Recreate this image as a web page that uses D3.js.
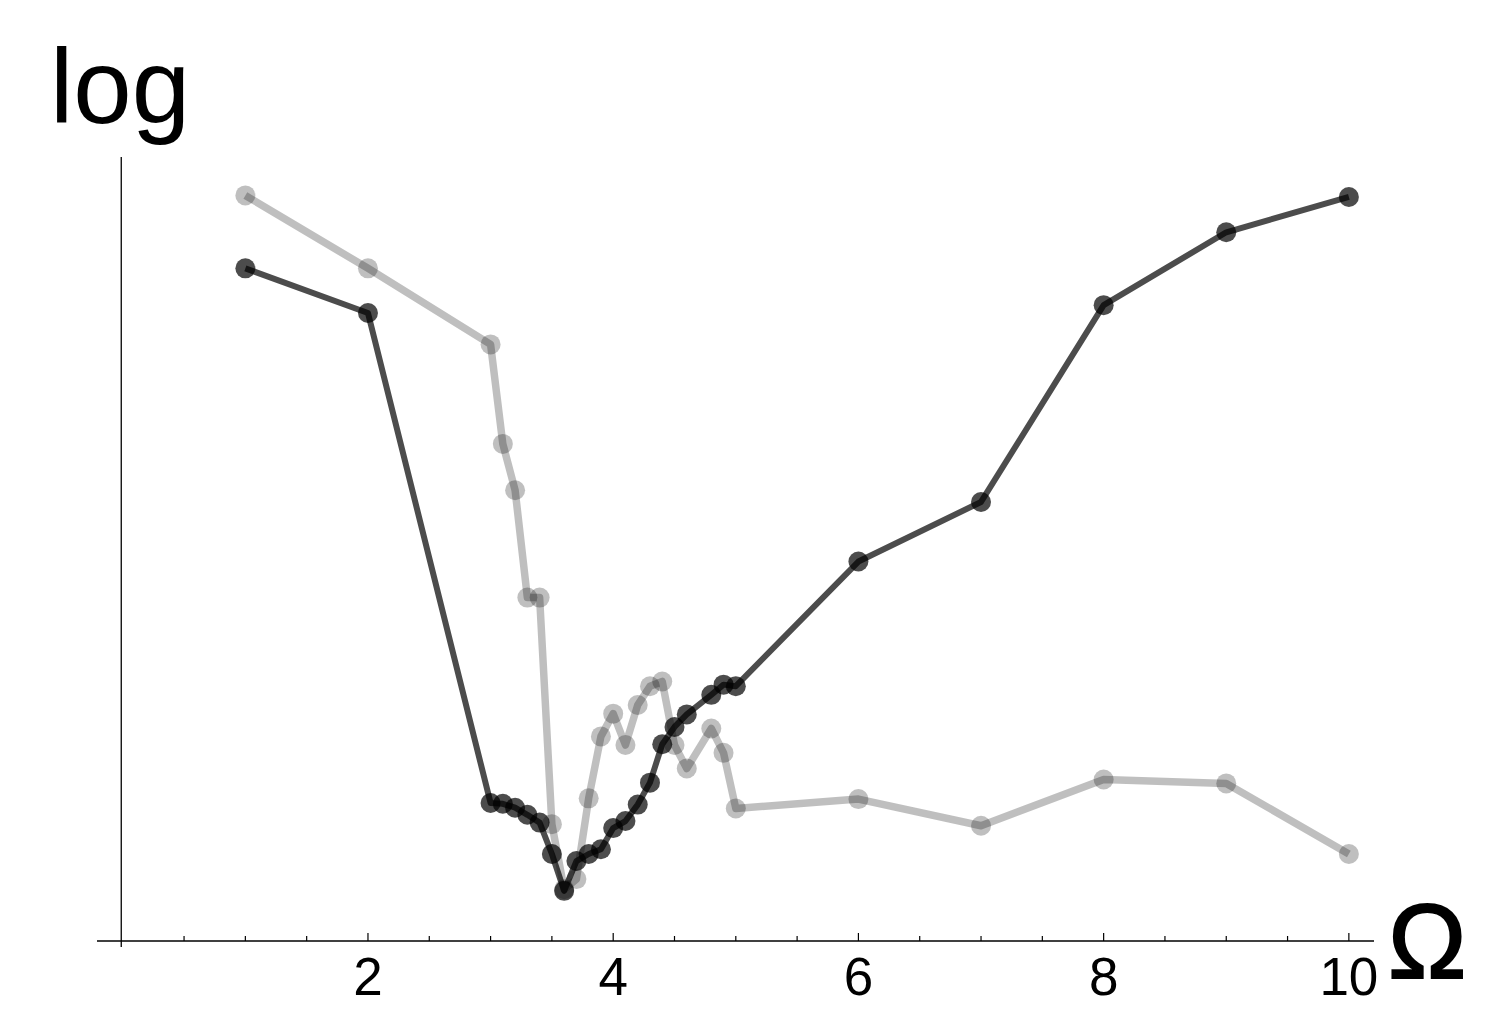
<!DOCTYPE html>
<html>
<head>
<meta charset="utf-8">
<script src="https://cdn.jsdelivr.net/npm/d3@7"></script>
<style>
  body { margin: 0; background: #fff; }
  text { font-family: "Liberation Sans", Arial, sans-serif; }
</style>
</head>
<body>
<div id="chart"></div>
<script>
// Omega sampling (no 4.7 in the original run)
const omega = [1, 2, 3, 3.1, 3.2, 3.3, 3.4, 3.5, 3.6, 3.7, 3.8, 3.9, 4.0, 4.1, 4.2, 4.3, 4.4, 4.5, 4.6, 4.8, 4.9, 5, 6, 7, 8, 9, 10];

// log values (arbitrary units, axis has no y ticks)
const darkValues = [85.8, 80.1, 17.6, 17.5, 17.0, 16.1, 15.1, 11.1, 6.4, 10.2, 11.1, 11.7, 14.4, 15.3, 17.4, 20.2, 25.1, 27.3, 28.9, 31.4, 32.7, 32.5, 48.4, 56.0, 81.1, 90.4, 94.9];
const lightValues = [95.1, 85.8, 76.1, 63.4, 57.5, 43.8, 43.8, 14.9, 6.6, 7.9, 18.2, 26.1, 29.0, 25.0, 30.1, 32.5, 33.1, 25.0, 22.0, 27.1, 24.0, 16.9, 18.1, 14.7, 20.6, 20.1, 11.1];

const majorTicks = [2, 4, 6, 8, 10];
const minorTicks = [0.5, 1, 1.5, 2.5, 3, 3.5, 4.5, 5, 5.5, 6.5, 7, 7.5, 8.5, 9, 9.5];

const width = 1500;
const height = 1031;

const svg = d3.select('#chart').append('svg')
    .attr('width', width)
    .attr('height', height);

const x = d3.scaleLinear()
    .domain([-0.21, 10.205])
    .range([97, 1374]);

const y = d3.scaleLinear()
    .domain([0, 100])
    .range([941, 157]);

// x axis: line plus inward ticks
svg.append('line')
    .attr('x1', x.range()[0]).attr('x2', x.range()[1])
    .attr('y1', y(0)).attr('y2', y(0))
    .attr('stroke', '#000').attr('stroke-width', 1.3);

svg.selectAll('.minor')
    .data(minorTicks)
    .enter().append('line')
    .attr('class', 'minor')
    .attr('x1', d => x(d)).attr('x2', d => x(d))
    .attr('y1', y(0)).attr('y2', y(0) - 5)
    .attr('stroke', '#000').attr('stroke-width', 1.2);

svg.selectAll('.major')
    .data(majorTicks)
    .enter().append('line')
    .attr('class', 'major')
    .attr('x1', d => x(d)).attr('x2', d => x(d))
    .attr('y1', y(0)).attr('y2', y(0) - 8)
    .attr('stroke', '#000').attr('stroke-width', 1.2);

svg.selectAll('.tick-label')
    .data(majorTicks)
    .enter().append('text')
    .attr('class', 'tick-label')
    .attr('x', d => x(d))
    .attr('y', 995)
    .attr('text-anchor', 'middle')
    .attr('font-size', 53)
    .text(d => d);

// y axis (extends a little below the x axis)
svg.append('line')
    .attr('x1', x(0) - 1.5).attr('x2', x(0) - 1.5)
    .attr('y1', y(100)).attr('y2', y(0) + 6)
    .attr('stroke', '#000').attr('stroke-width', 1.3);

// axis labels
svg.append('text')
    .attr('x', 50)
    .attr('y', 123)
    .attr('font-size', 105)
    .text('log');

// Omega is a bit heavier than the regular face, so thicken with a thin stroke
svg.append('text')
    .attr('x', 1388)
    .attr('y', 978)
    .attr('font-size', 105)
    .attr('stroke', '#000')
    .attr('stroke-width', 2)
    .text('Ω');

// series
const line = d3.line()
    .x(d => x(d.w))
    .y(d => y(d.v));

const series = [
    { name: 'light', values: lightValues, width: 7.5, r: 10, opacity: 0.25 },
    { name: 'dark', values: darkValues, width: 6, r: 10, opacity: 0.7 }
];

series.forEach(s => {
    const pts = omega.map((w, i) => ({ w: w, v: s.values[i] }));

    svg.append('path')
        .datum(pts)
        .attr('d', line)
        .attr('fill', 'none')
        .attr('stroke', '#000')
        .attr('stroke-opacity', s.opacity)
        .attr('stroke-width', s.width)
        .attr('stroke-linejoin', 'round');

    svg.selectAll('.pt-' + s.name)
        .data(pts)
        .enter().append('circle')
        .attr('class', 'pt-' + s.name)
        .attr('cx', d => x(d.w))
        .attr('cy', d => y(d.v))
        .attr('r', s.r)
        .attr('fill', '#000')
        .attr('fill-opacity', s.opacity);
});
</script>
</body>
</html>
